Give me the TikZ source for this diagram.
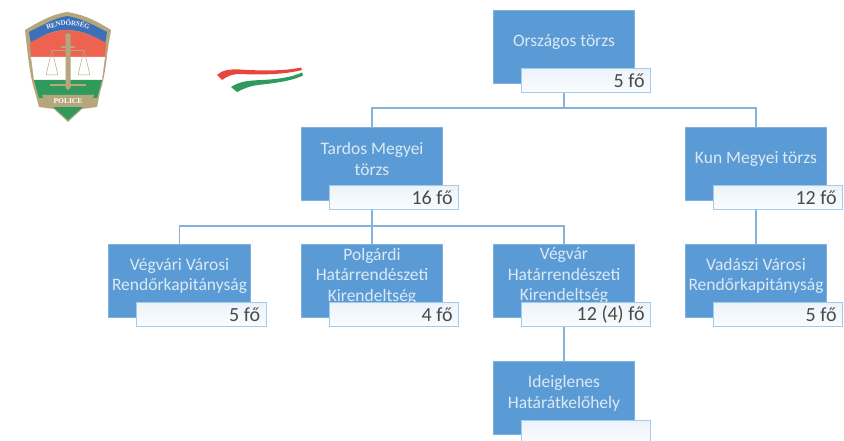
\documentclass[tikz,border=0pt]{standalone}
\usepackage{fontspec}
\setmainfont{Carlito}
\newfontfamily\logofont{Liberation Serif}
\usetikzlibrary{backgrounds,decorations.text,calc}
\definecolor{boxblue}{HTML}{5B9BD5}
\definecolor{boxedge}{HTML}{7FB1DE}
\definecolor{subedge}{HTML}{A6CBEA}
\definecolor{subtop}{HTML}{EBF3FA}
\definecolor{subbottom}{HTML}{FBFDFE}
\definecolor{linkblue}{HTML}{86B2DC}
\definecolor{labeltext}{HTML}{DCE9F5}
\definecolor{counttext}{HTML}{4A4A48}
\definecolor{shieldgold}{HTML}{B5A67E}
\definecolor{shieldblue}{HTML}{3C70B8}
\definecolor{shieldred}{HTML}{EE6250}
\definecolor{ribbonred}{HTML}{E8453C}
\definecolor{shieldgreen}{HTML}{2F9A5C}
\tikzset{
  orgbox/.style={draw=boxedge,line width=0.8pt,fill=boxblue,minimum width=141.5pt,minimum height=73pt,inner sep=0pt,outer sep=0pt},
  orglabel/.style={text=labeltext,font=\fontsize{17.5}{20.5}\selectfont,align=center,inner sep=0pt},
  countbox/.style={draw=subedge,line width=1pt,top color=subtop,bottom color=subbottom,minimum width=129.5pt,minimum height=24pt,inner sep=0pt,outer sep=0pt},
  countlabel/.style={text=counttext,font=\fontsize{20}{22}\selectfont,inner sep=0pt},
  link/.style={draw=linkblue,line width=1.2pt},
}
% name, centre x, centre y, label, count
\newcommand{\orgunit}[5]{%
  \node[orgbox] (#1) at (#2,#3) {};
  \node[orglabel] (#1-label) at ($(#1.center)+(0,-4.5)$) {#4};
  \node[countbox] (#1-count) at ($(#1.center)+(22,34)$) {};
  \node[countlabel,anchor=east] (#1-num) at ($(#1-count.east)+(-6,0)$) {#5};
}
\begin{document}
\begin{tikzpicture}[x=1pt,y=-1pt]
\useasboundingbox (0,0) rectangle (844,441);
% units
\orgunit{orsz}{564}{46.5}{Országos törzs}{5 fő}
\orgunit{tardos}{372}{163.5}{Tardos Megyei\\törzs}{16 fő}
\orgunit{kun}{756}{163.5}{Kun Megyei törzs}{12 fő}
\orgunit{vegvari}{179.5}{280.5}{Végvári Városi\\Rendőrkapitányság}{5 fő}
\orgunit{polgardi}{372}{280.5}{Polgárdi\\Határrendészeti\\Kirendeltség}{4 fő}
\orgunit{vegvar}{564}{280.5}{Végvár\\Határrendészeti\\Kirendeltség}{12 (4) fő}
\orgunit{vadaszi}{756}{280.5}{Vadászi Városi\\Rendőrkapitányság}{5 fő}
\orgunit{ideig}{564}{398}{Ideiglenes\\Határátkelőhely}{}
% connectors
\coordinate (bustop) at (564,108);
\coordinate (busmid) at (372,226);
\begin{scope}[on background layer]
  \draw[link] (orsz.south) -- (bustop);
  \draw[link] (bustop) -| (tardos.north);
  \draw[link] (bustop) -| (kun.north);
  \draw[link] (tardos.south) -- (polgardi.north);
  \draw[link] (busmid) -| (vegvari.north);
  \draw[link] (busmid) -| (vegvar.north);
  \draw[link] (kun.south) -- (vadaszi.north);
  \draw[link] (vegvar.south) -- (ideig.north);
\end{scope}
% shield
\fill[shieldgold] (25,30) .. controls (45,18) and (55,14) .. (67,12) .. controls (80,14) and (92,18) .. (111,30)
  -- (108,48) .. controls (106,65) and (104,80) .. (100,92) -- (97,107) -- (82,109) -- (68,122) -- (54,109) -- (39,107) -- (35,92) .. controls (31,80) and (29,65) .. (27,48) -- cycle;
\fill[shieldblue] (29,32) .. controls (45,24) and (55,18) .. (67,16) .. controls (80,18) and (92,24) .. (107,32) -- (105,44) -- (100,40) .. controls (88,33) and (78,30) .. (67,30) .. controls (56,30) and (46,33) .. (36,40) -- (31,44) -- cycle;
\fill[shieldred] (30,43) .. controls (42,35) and (55,31) .. (67,30) .. controls (80,31) and (93,35) .. (106,43) -- (105,57) -- (31,57) -- cycle;
\fill[white] (31,57) -- (105,57) -- (102,80) -- (34,80) -- cycle;
\fill[shieldgreen] (34,80) -- (102,80) -- (97,98) -- (39,98) -- cycle;
\fill[shieldgreen] (52,106) -- (84,106) -- (68,120) -- cycle;
\fill[shieldgold] (42,95) -- (94,95) -- (90,107) -- (46,107) -- cycle;
\node[text=white,font=\logofont\bfseries\fontsize{7.5}{8}\selectfont,inner sep=0pt] (policetext) at (68,101) {POLICE};
\path[decorate,decoration={text along path,text align=center,raise=-2.2pt,
  text={|\logofont\bfseries\fontsize{7}{8}\selectfont\color{white!90!shieldblue}|RENDŐRSÉG}}]
  (35,34) .. controls (48,26) and (58,23) .. (68,23) .. controls (78,23) and (88,26) .. (101,34);
\draw[shieldgold,line width=0.6pt] (52,50) -- (84,50);
\draw[shieldgold,line width=0.5pt] (52,50) -- (46,75) -- (58,75) -- cycle;
\draw[shieldgold,line width=0.5pt] (84,50) -- (78,75) -- (90,75) -- cycle;
\fill[shieldgold] (65.5,38) -- (70.5,38) -- (70.5,88) -- (68,90) -- (65.5,88) -- cycle;
\fill[shieldgold] (68,36) circle (3pt);
\fill[shieldgold] (61,46) rectangle (75,48);
\fill[shieldgold] (50,84) rectangle (86,86.5);
% ribbon
\fill[ribbonred] (217,75) .. controls (222,70) and (230,69) .. (240,69.5) .. controls (262,71) and (285,71) .. (301,67.5) -- (302,70) .. controls (285,74.5) and (262,75) .. (240,74) .. controls (232,74) and (228,76) .. (222,80) -- cycle;
\fill[shieldgreen] (231,87) .. controls (240,81) and (250,80.5) .. (262,80) .. controls (280,79) and (292,77) .. (302,72.5) -- (303,75.5) .. controls (292,81) and (275,83) .. (258,85) .. controls (250,86) and (245,88) .. (237,92) -- cycle;
\end{tikzpicture}
\end{document}
